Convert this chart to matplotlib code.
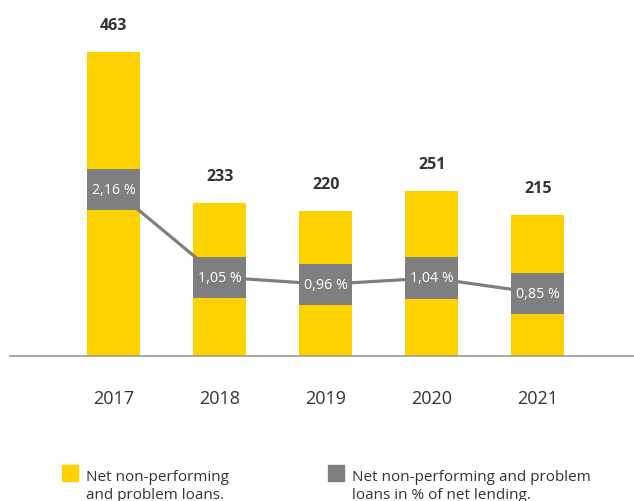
import matplotlib
matplotlib.use('Agg')
import matplotlib.pyplot as plt
from matplotlib.patches import Rectangle

plt.rcParams['font.family'] = ['Open Sans', 'DejaVu Sans']

# data
years = ['2017', '2018', '2019', '2020', '2021']
loans = [463, 233, 220, 251, 215]
pct = [2.16, 1.05, 0.96, 1.04, 0.85]
legend_labels = ['Net non-performing\nand problem loans.',
                 'Net non-performing and problem\nloans in % of net lending.']

yellow = '#fdd200'
grey = '#7f7f82'
dark = '#333333'

fig = plt.figure(figsize=(6.34, 5.02), dpi=100)
ax = fig.add_axes([10/634, 145/502, 624/634, 337/502])
x = list(range(len(years)))

ax.bar(x, loans, width=0.5, color=yellow, zorder=2)
for xi, v in zip(x, loans):
    ax.annotate(str(v), (xi, v), xytext=(0, 19.5), textcoords='offset points',
                ha='center', va='center', fontsize=11.5, fontweight='bold', color=dark)

ax.set_xlim(-0.976, 4.906)
ax.set_ylim(0, 513)
ax.set_xticks(x)
ax.set_xticklabels(years, fontsize=13, color=dark)
ax.tick_params(axis='x', length=0, pad=24)
ax.set_yticks([])
for s in ['top', 'left', 'right']:
    ax.spines[s].set_visible(False)
ax.spines['bottom'].set_color('#9a9a9a')
ax.spines['bottom'].set_linewidth(1.2)

# percentage line with boxes
ax2 = ax.twinx()
ax2.set_ylim(0.055, 4.31)
ax2.set_yticks([])
for s in ax2.spines.values():
    s.set_visible(False)
ax2.plot(x, pct, color=grey, lw=2.3, zorder=2, solid_capstyle='butt')
box_h = 0.518
ax2.bar(x, [box_h] * len(x), bottom=[p - box_h / 2 for p in pct], width=0.5,
        color=grey, zorder=3)
for xi, p in zip(x, pct):
    ax2.text(xi, p, f'{p:.2f} %'.replace('.', ','), ha='center', va='center',
             fontsize=10.3, color='white', zorder=4)

# legend
for lx, col, lab in [(62, yellow, legend_labels[0]), (328, grey, legend_labels[1])]:
    fig.patches.append(Rectangle((lx/634, (502-481.5)/502), 16/634, 16/502,
                                 transform=fig.transFigure, color=col))
    for i, line in enumerate(lab.split('\n')):
        fig.text((lx + 24)/634, (502 - 481.5 - 18 * i)/502, line, ha='left',
                 va='baseline', fontsize=11, color=dark)

fig.savefig('out.png', dpi=100)
